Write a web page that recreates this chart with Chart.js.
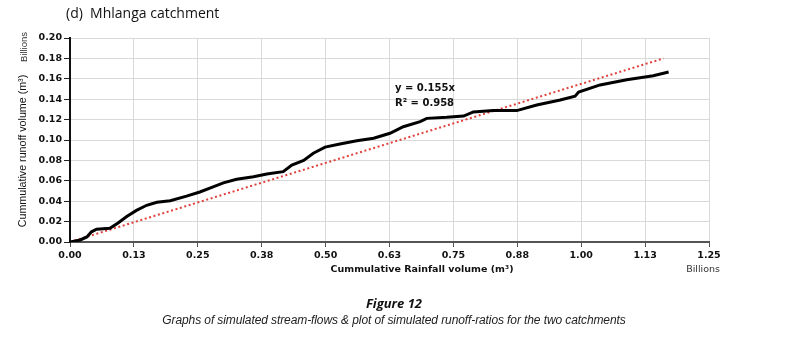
<!DOCTYPE html>
<html>
<head>
<meta charset="utf-8">
<script src="https://cdn.jsdelivr.net/npm/chart.js@4.4.1/dist/chart.umd.min.js"></script>
<style>
  body { margin: 0; background: #fff; }
  .wrap { position: relative; width: 794px; height: 346px; overflow: hidden; }
  .wrap canvas { position: absolute; left: 0; top: 0; }
  .title { position: absolute; left: 66px; top: 3px; font: 14px "Open Sans", sans-serif;
    color: #111; white-space: pre; }
  .fig { position: absolute; left: 0; width: 788px; text-align: center; top: 294px;
    font: italic bold 13px "Open Sans", sans-serif; color: #111; }
  .cap { position: absolute; left: 0; width: 788px; text-align: center; top: 313px;
    font: italic 12px "Liberation Sans", sans-serif; color: #222; letter-spacing: -0.1px; }
</style>
</head>
<body>
<div class="wrap">
  <canvas id="c" width="794" height="346"></canvas>
  <div class="title">(d)  Mhlanga catchment</div>
  <div class="fig">Figure 12</div>
  <div class="cap">Graphs of simulated stream-flows &amp; plot of simulated runoff-ratios for the two catchments</div>
</div>
<script>
// Cumulative rainfall (billions m3) vs cumulative runoff (billions m3)
const rainfall = [0.000, 0.020, 0.033, 0.042, 0.052, 0.078, 0.094, 0.111, 0.130, 0.150,
  0.170, 0.196, 0.228, 0.254, 0.280, 0.300, 0.326, 0.359, 0.385, 0.417,
  0.434, 0.457, 0.476, 0.499, 0.528, 0.561, 0.594, 0.626, 0.652, 0.685,
  0.698, 0.737, 0.770, 0.789, 0.828, 0.874, 0.913, 0.959, 0.988, 0.995,
  1.037, 1.089, 1.141, 1.161, 1.171];
const runoff = [0.0000, 0.0020, 0.0050, 0.0100, 0.0125, 0.0134, 0.0186, 0.0250, 0.0310, 0.0360,
  0.0390, 0.0405, 0.0450, 0.0490, 0.0540, 0.0580, 0.0615, 0.0640, 0.0667, 0.0690,
  0.0755, 0.0800, 0.0870, 0.0930, 0.0960, 0.0993, 0.1017, 0.1066, 0.1130, 0.1180,
  0.1212, 0.1222, 0.1235, 0.1275, 0.1288, 0.1288, 0.1343, 0.1392, 0.1430, 0.1470,
  0.1540, 0.1590, 0.1630, 0.1654, 0.1667];
// linear trend y = 0.155x (end points)
const trendX = [0, 1.161];
const trendY = [0, 0.180];
const xTicks = [0, 0.125, 0.25, 0.375, 0.5, 0.625, 0.75, 0.875, 1, 1.125, 1.25];
const yTicks = [0, 0.02, 0.04, 0.06, 0.08, 0.10, 0.12, 0.14, 0.16, 0.18, 0.20];

const tickFont = { family: 'DejaVu Sans', size: 9.5, weight: 'bold' };

const labelsPlugin = {
  id: 'labels',
  afterDraw: function (chart) {
    const ctx = chart.ctx;
    const a = chart.chartArea;
    ctx.save();
    ctx.fillStyle = '#111';
    // y axis title + Billions
    ctx.save();
    ctx.translate(23, 151);
    ctx.rotate(-Math.PI / 2);
    ctx.textAlign = 'center';
    ctx.textBaseline = 'middle';
    ctx.font = '10.7px "Liberation Sans"';
    ctx.fillText('Cummulative runoff volume (m\u00b3)', 0, 0);
    ctx.restore();
    ctx.save();
    ctx.translate(24, 47);
    ctx.rotate(-Math.PI / 2);
    ctx.textAlign = 'center';
    ctx.textBaseline = 'middle';
    ctx.font = '9.5px "Liberation Sans"';
    ctx.fillStyle = '#333';
    ctx.fillText('Billions', 0, 0);
    ctx.restore();
    // x axis title + Billions
    ctx.textAlign = 'center';
    ctx.textBaseline = 'middle';
    ctx.font = 'bold 9.5px "DejaVu Sans"';
    ctx.fillText('Cummulative Rainfall volume (m\u00b3)', 422, 270);
    ctx.textAlign = 'right';
    ctx.font = '9.5px "DejaVu Sans"';
    ctx.fillStyle = '#333';
    ctx.fillText('Billions', 720, 270);
    // trendline equation
    ctx.fillStyle = '#111';
    ctx.textAlign = 'left';
    ctx.font = 'bold 10px "DejaVu Sans"';
    ctx.fillText('y = 0.155x', a.left + 325, 88);
    ctx.fillText('R\u00b2 = 0.958', a.left + 325, 103);
    ctx.restore();
  }
};

new Chart(document.getElementById('c'), {
  type: 'scatter',
  data: {
    datasets: [
      {
        data: rainfall.map(function (x, i) { return { x: x, y: runoff[i] }; }),
        showLine: true,
        borderColor: '#000',
        borderWidth: 3,
        pointRadius: 0,
        tension: 0
      },
      {
        data: trendX.map(function (x, i) { return { x: x, y: trendY[i] }; }),
        showLine: true,
        borderColor: '#e0403a',
        borderWidth: 2,
        borderDash: [2, 2.6],
        pointRadius: 0
      }
    ]
  },
  options: {
    responsive: false,
    animation: false,
    layout: { padding: { left: 0, right: 85, top: 38, bottom: 84 } },
    plugins: { legend: { display: false }, tooltip: { enabled: false } },
    scales: {
      x: {
        type: 'linear', min: 0, max: 1.25,
        afterBuildTicks: function (s) { s.ticks = xTicks.map(function (v) { return { value: v }; }); },
        afterFit: function (s) { s.height = 20; },
        ticks: { font: tickFont, color: '#111', padding: 3, maxRotation: 0,
          callback: function (v) { return v.toFixed(2); } },
        grid: { color: '#d9d9d9', tickColor: '#555', tickLength: 5, lineWidth: 1 },
        border: { color: '#555', width: 2 }
      },
      y: {
        type: 'linear', min: 0, max: 0.2,
        afterBuildTicks: function (s) { s.ticks = yTicks.map(function (v) { return { value: v }; }); },
        afterFit: function (s) { s.width = 70; },
        ticks: { font: tickFont, color: '#111', padding: 2,
          callback: function (v) { return v.toFixed(2); } },
        grid: { color: '#d9d9d9', tickColor: '#222', tickLength: 6, lineWidth: 1 },
        border: { color: '#111', width: 2 }
      }
    }
  },
  plugins: [labelsPlugin]
});
</script>
</body>
</html>
